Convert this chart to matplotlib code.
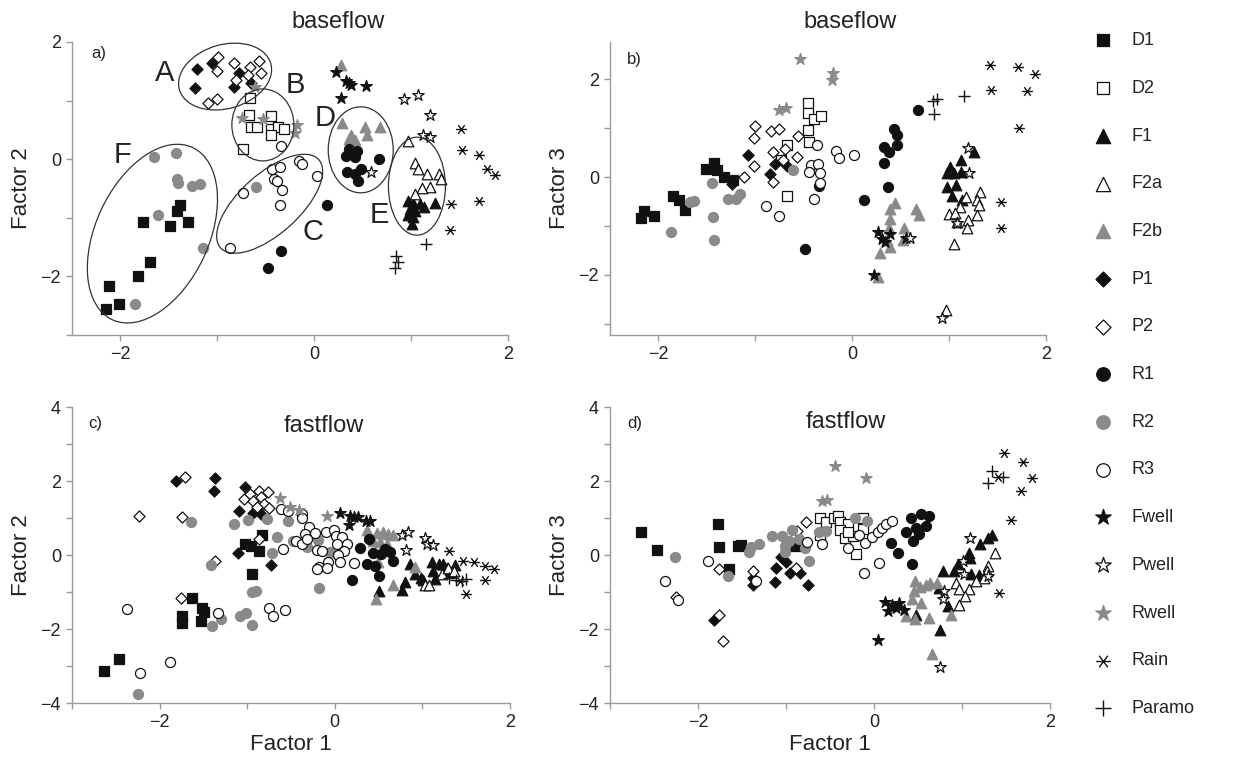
import matplotlib
matplotlib.use('Agg')
import matplotlib.pyplot as plt
from matplotlib.patches import Ellipse
from matplotlib.path import Path
from matplotlib.transforms import ScaledTranslation
from matplotlib.ticker import MultipleLocator

plt.rcParams['font.family'] = ['Liberation Sans', 'DejaVu Sans']

categories = ["D1", "D2", "F1", "F2a", "F2b", "P1", "P2", "R1", "R2", "R3",
              "Fwell", "Pwell", "Rwell", "Rain", "Paramo"]

# ---------------- panel a: baseflow, Factor 1 vs Factor 2 ----------------
base_f12 = {
    "D1": [(-1.39, -0.78), (-1.42, -0.88), (-1.77, -1.08), (-1.49, -1.14), (-1.30, -1.08),
           (-1.70, -1.75), (-1.82, -1.99), (-2.12, -2.16), (-2.02, -2.47), (-2.15, -2.56)],
    "D2": [(-0.66, 1.05), (-0.67, 0.75), (-0.65, 0.55), (-0.59, 0.55), (-0.45, 0.73),
           (-0.45, 0.51), (-0.37, 0.55), (-0.31, 0.51), (-0.45, 0.42), (-0.73, 0.17)],
    "F1": [(0.97, -0.71), (1.02, -0.74), (1.09, -0.76), (1.13, -0.82), (0.99, -0.85),
           (1.04, -0.88), (0.97, -0.96), (1.02, -0.99), (1.01, -1.10), (1.25, -0.75)],
    "F2a": [(0.97, 0.31), (1.04, -0.07), (1.07, -0.17), (1.16, -0.25), (1.29, -0.25),
            (1.31, -0.33), (1.19, -0.48), (1.11, -0.50), (1.04, -0.60)],
    "F2b": [(0.29, 0.62), (0.52, 0.55), (0.68, 0.55), (0.54, 0.42), (0.38, 0.42),
            (0.42, 0.33), (0.36, 0.35), (0.28, 1.61)],
    "P1": [(-1.21, 1.54), (-1.06, 1.64), (-1.23, 1.21), (-0.83, 1.23), (-0.78, 1.47), (-0.65, 1.30)],
    "P2": [(-0.99, 1.75), (-1.00, 1.50), (-0.83, 1.64), (-0.66, 1.58), (-0.57, 1.67),
           (-0.55, 1.47), (-0.68, 1.44), (-0.81, 1.36), (-1.10, 0.96), (-1.00, 1.03)],
    "R1": [(-0.34, -1.57), (-0.48, -1.85), (0.13, -0.79), (0.36, 0.17), (0.44, 0.14),
           (0.33, 0.06), (0.42, 0.03), (0.48, -0.17), (0.42, -0.25), (0.34, -0.21),
           (0.45, -0.37), (0.67, 0.01)],
    "R2": [(-1.65, 0.04), (-1.43, 0.10), (-1.42, -0.34), (-1.41, -0.41), (-1.26, -0.46),
           (-1.18, -0.43), (-1.61, -0.96), (-0.60, -0.47), (-1.15, -1.51), (-1.85, -2.47)],
    "R3": [(-0.34, 0.23), (-0.44, -0.16), (-0.35, -0.13), (-0.41, -0.34), (-0.38, -0.38),
           (-0.33, -0.52), (-0.35, -0.79), (-0.74, -0.58), (-0.87, -1.51), (-0.16, -0.03),
           (-0.13, -0.08), (0.03, -0.28)],
    "Fwell": [(0.22, 1.48), (0.33, 1.34), (0.38, 1.26), (0.36, 1.30), (0.53, 1.25), (0.28, 1.05)],
    "Pwell": [(0.93, 1.02), (1.07, 1.09), (1.20, 0.76), (1.12, 0.42), (1.20, 0.38), (0.59, -0.21)],
    "Rwell": [(-0.75, 0.71), (-0.53, 0.68), (-0.18, 0.59), (-0.20, 0.45), (-0.61, 1.24)],
    "Rain": [(1.52, 0.52), (1.53, 0.15), (1.70, 0.07), (1.78, -0.16), (1.87, -0.27),
             (1.41, -0.77), (1.70, -0.72), (1.40, -1.20)],
    "Paramo": [(1.15, -1.45), (0.84, -1.66), (0.86, -1.75), (0.83, -1.85)],
}

# ---------------- panel b: baseflow, Factor 1 vs Factor 3 ----------------
base_f13 = {
    "D1": [(-2.18, -0.83), (-2.15, -0.69), (-2.05, -0.80), (-1.85, -0.39), (-1.79, -0.48),
           (-1.73, -0.67), (-1.51, 0.17), (-1.43, 0.29), (-1.40, 0.14), (-1.32, -0.01), (-1.23, -0.07)],
    "D2": [(-0.46, 1.51), (-0.46, 1.31), (-0.39, 1.19), (-0.32, 1.24), (-0.46, 0.97),
           (-0.45, 0.71), (-0.67, 0.65), (-0.74, 0.34), (-0.67, -0.39)],
    "F1": [(1.26, 0.52), (1.12, 0.35), (1.01, 0.20), (0.98, 0.08), (1.05, 0.08), (1.12, 0.10),
           (0.98, -0.20), (1.07, -0.16), (1.03, -0.39), (1.13, -0.48)],
    "F2a": [(1.32, -0.31), (1.29, -0.46), (1.31, -0.58), (1.17, -0.41), (1.11, -0.61),
            (1.00, -0.75), (1.06, -0.73), (1.20, -0.87), (1.29, -0.77), (1.08, -0.92),
            (1.18, -1.05), (1.05, -1.37), (0.97, -2.72)],
    "F2b": [(0.44, -0.54), (0.39, -0.65), (0.39, -0.86), (0.38, -1.05), (0.53, -1.05),
            (0.52, -1.29), (0.36, -1.29), (0.39, -1.43), (0.29, -1.56), (0.27, -2.05),
            (0.66, -0.65), (0.69, -0.78)],
    "P1": [(-1.24, -0.15), (-1.08, 0.44), (-0.85, 0.06), (-0.80, 0.27), (-0.67, 0.22)],
    "P2": [(-1.12, -0.01), (-1.00, 1.05), (-1.01, 0.80), (-1.01, 0.22), (-0.84, 0.95),
           (-0.76, 0.99), (-0.82, 0.51), (-0.82, -0.10), (-0.69, 0.58), (-0.57, 0.41),
           (-0.56, 0.83), (-0.71, 0.35)],
    "R1": [(-0.34, -0.18), (-0.49, -1.48), (0.68, 1.38), (0.43, 0.99), (0.46, 0.85),
           (0.33, 0.61), (0.46, 0.65), (0.38, 0.51), (0.33, 0.29), (0.37, -0.20), (0.12, -0.46)],
    "R2": [(-1.45, -0.12), (-1.67, -0.51), (-1.63, -0.50), (-1.28, -0.44), (-1.20, -0.44),
           (-1.16, -0.34), (-1.44, -0.82), (-1.43, -1.28), (-1.87, -1.12), (-0.61, 0.15)],
    "R3": [(-0.36, 0.66), (-0.43, 0.25), (-0.35, 0.26), (-0.45, 0.10), (-0.33, 0.08),
           (-0.33, -0.12), (-0.39, -0.44), (-0.89, -0.59), (-0.76, -0.80), (-0.17, 0.54),
           (-0.14, 0.39), (0.02, 0.46)],
    "Fwell": [(0.27, -1.13), (0.31, -1.26), (0.34, -1.33), (0.39, -1.16), (0.55, -1.24), (0.22, -2.01)],
    "Pwell": [(1.20, 0.59), (1.21, 0.08), (0.60, -1.24), (1.08, -0.94), (0.93, -2.89)],
    "Rwell": [(-0.54, 2.42), (-0.76, 1.36), (-0.68, 1.42), (-0.20, 2.13), (-0.21, 1.99)],
    "Rain": [(1.42, 2.29), (1.71, 2.24), (1.89, 2.10), (1.43, 1.78), (1.80, 1.75),
             (1.72, 1.00), (1.54, -0.51), (1.54, -1.05)],
    "Paramo": [(0.83, 1.56), (0.88, 1.60), (0.84, 1.29), (1.15, 1.65)],
}

# ---------------- panel c: fastflow, Factor 1 vs Factor 2 ----------------
fast_f12 = {
    "D1": [(-1.63, -1.15), (-1.52, -1.42), (-1.49, -1.54), (-1.75, -1.65), (-1.75, -1.83),
           (-1.53, -1.78), (-2.46, -2.82), (-2.64, -3.14), (-0.83, 0.55), (-1.03, 0.31),
           (-0.96, 0.25), (-0.86, 0.12), (-0.94, -0.52)],
    "D2": [],
    "F1": [(0.86, -0.25), (0.92, -0.50), (0.98, -0.63), (0.80, -0.74), (0.77, -0.95),
           (0.51, -0.97), (1.11, -0.20), (1.19, -0.25), (1.24, -0.23), (1.28, -0.35),
           (1.37, -0.26), (1.32, -0.47), (1.12, -0.44), (1.14, -0.65), (1.01, -0.68)],
    "F2a": [(1.03, -0.81), (1.08, -0.81), (1.22, -0.50), (1.29, -0.34), (1.36, -0.44)],
    "F2b": [(0.37, 0.68), (0.48, 0.59), (0.55, 0.61), (0.61, 0.57), (0.67, 0.55), (0.44, 0.39),
            (0.52, 0.34), (0.60, 0.30), (0.49, -0.20), (0.67, -0.81), (0.47, -1.19), (0.91, -0.32)],
    "P1": [(-1.81, 1.99), (-1.37, 2.08), (-1.38, 1.74), (-1.03, 1.83), (-1.09, 1.20),
           (-0.93, 1.13), (-0.84, 1.11), (-1.10, 0.05), (-0.73, -0.26)],
    "P2": [(-1.71, 2.12), (-2.24, 1.06), (-1.75, 1.02), (-1.37, -0.17), (-1.76, -1.15),
           (-1.04, 1.52), (-0.97, 1.65), (-0.87, 1.72), (-0.76, 1.71), (-0.93, 1.47),
           (-0.84, 1.56), (-0.81, 1.38), (-0.75, 1.27), (-0.89, 1.31), (-0.86, 0.43)],
    "R1": [(0.29, 0.18), (0.39, 0.43), (0.44, 0.05), (0.37, -0.25), (0.46, -0.29), (0.20, -0.67),
           (0.53, 0.04), (0.63, 0.07), (0.67, -0.16), (0.51, -0.56), (0.57, 0.16)],
    "R2": [(-1.64, 0.88), (-1.15, 0.84), (-1.41, -0.26), (-1.40, -1.92), (-1.30, -1.72),
           (-1.08, -1.65), (-2.25, -3.77), (-0.99, 0.95), (-0.77, 0.97), (-0.53, 0.93),
           (-0.66, 0.48), (-0.72, 0.05), (-0.48, 0.39), (-0.32, 0.21), (-0.19, 0.40),
           (-0.06, 0.07), (-0.95, -1.01), (-0.90, -0.97), (-1.01, -1.56), (-0.94, -1.90),
           (-0.18, -0.90)],
    "R3": [(-2.37, -1.47), (-1.33, -1.57), (-1.88, -2.88), (-2.22, -3.20), (-0.61, 1.24),
           (-0.53, 1.18), (-0.38, 1.11), (-0.37, 1.00), (-0.59, 0.16), (-0.44, 0.39),
           (-0.37, 0.30), (-0.29, 0.75), (-0.34, 0.57), (-0.23, 0.59), (-0.32, 0.43),
           (-0.20, 0.14), (-0.15, 0.12), (-0.10, 0.61), (-0.01, 0.68), (0.01, 0.52),
           (0.08, 0.50), (0.02, 0.30), (0.14, 0.30), (0.10, 0.12), (0.04, 0.01),
           (0.06, -0.18), (-0.08, -0.20), (-0.18, -0.32), (-0.20, -0.38), (-0.09, -0.34),
           (0.22, -0.22), (-0.75, -1.44), (-0.71, -1.66), (-0.57, -1.48)],
    "Fwell": [(0.06, 1.14), (0.17, 1.06), (0.22, 1.02), (0.27, 1.02), (0.36, 0.93),
              (0.40, 0.91), (0.16, 0.81)],
    "Pwell": [(0.77, 0.55), (0.83, 0.61), (1.03, 0.46), (1.05, 0.30), (1.12, 0.27), (0.81, 0.13)],
    "Rwell": [(-0.62, 1.54), (-0.51, 1.31), (-0.41, 1.22), (-0.09, 1.06)],
    "Rain": [(1.30, 0.10), (1.46, -0.16), (1.59, -0.20), (1.71, -0.29), (1.82, -0.38),
             (1.72, -0.67), (1.50, -1.06), (1.43, -0.70)],
    "Paramo": [(1.30, -0.61), (1.38, -0.68), (1.45, -0.70), (1.50, -0.65)],
}

# ---------------- panel d: fastflow, Factor 1 vs Factor 3 ----------------
fast_f13 = {
    "D1": [(-2.65, 0.63), (-2.47, 0.13), (-1.77, 0.85), (-1.76, 0.22), (-1.55, 0.23),
           (-1.51, 0.26), (-1.65, -0.39), (-0.94, 0.24), (-0.84, 0.23)],
    "D2": [(-0.61, 1.01), (-0.54, 0.88), (-0.45, 1.01), (-0.41, 1.06), (-0.39, 0.88),
           (-0.30, 0.85), (-0.39, 0.68), (-0.33, 0.45), (-0.24, 0.52), (-0.13, 0.99),
           (-0.13, 0.70), (-0.21, 0.02), (-0.61, 0.55), (-0.30, 0.63)],
    "F1": [(1.34, 0.54), (1.30, 0.45), (1.20, 0.29), (1.08, 0.06), (1.09, -0.07), (0.95, -0.25),
           (0.91, -0.43), (0.78, -0.43), (1.10, -0.51), (1.19, -0.54), (0.74, -0.89),
           (0.84, -1.38), (0.75, -2.02), (0.48, -1.61)],
    "F2a": [(1.37, 0.06), (1.30, -0.30), (1.28, -0.43), (1.25, -0.62), (1.16, -0.71),
            (0.93, -0.75), (0.97, -0.93), (1.08, -0.93), (1.03, -1.11), (0.97, -1.34)],
    "F2b": [(0.47, -0.71), (0.45, -0.96), (0.43, -1.18), (0.52, -0.87), (0.59, -0.81),
            (0.64, -0.75), (0.72, -0.75), (0.36, -1.66), (0.47, -1.72), (0.63, -1.70),
            (0.53, -1.29), (0.88, -1.61), (0.66, -2.68)],
    "P1": [(-1.82, -1.76), (-1.38, -0.63), (-1.38, -0.81), (-1.06, -0.05), (-1.00, -0.18),
           (-1.11, -0.34), (-0.95, -0.48), (-0.84, -0.48), (-1.12, -0.73), (-0.75, -0.80)],
    "P2": [(-2.25, -1.14), (-1.76, -0.39), (-1.76, -1.61), (-1.72, -2.32), (-1.38, -0.43),
           (-0.77, 0.88), (-0.87, 0.65), (-0.89, -0.34)],
    "R1": [(0.42, 1.01), (0.53, 1.10), (0.63, 1.06), (0.59, 0.79), (0.48, 0.74), (0.36, 0.61),
           (0.51, 0.58), (0.44, 0.38), (0.27, 0.06), (0.43, -0.24), (0.19, 0.33)],
    "R2": [(-2.26, -0.05), (-1.66, -0.57), (-1.42, 0.09), (-1.40, 0.22), (-1.31, 0.31),
           (-1.16, 0.52), (-1.04, 0.52), (-0.93, 0.67), (-0.97, 0.38), (-1.01, 0.24),
           (-1.01, 0.09), (-0.85, 0.43), (-0.74, -0.16), (-0.78, 0.20), (-0.62, 0.61),
           (-0.54, 0.65), (-0.22, 1.01), (-0.08, 0.92)],
    "R3": [(-2.38, -0.71), (-2.23, -1.22), (-1.89, -0.16), (-1.34, -0.71), (-0.76, 0.34),
           (-0.59, 0.29), (-0.30, 0.20), (-0.17, 0.54), (-0.10, 0.33), (-0.02, 0.49),
           (0.04, 0.61), (0.09, 0.74), (0.14, 0.85), (0.20, 0.92), (0.06, -0.21), (-0.11, -0.48)],
    "Fwell": [(0.13, -1.27), (0.20, -1.36), (0.28, -1.29), (0.16, -1.52), (0.04, -2.29),
              (0.34, -1.48), (0.25, -1.43)],
    "Pwell": [(1.09, 0.47), (1.01, -0.16), (1.02, -0.52), (0.80, -0.98), (0.78, -1.20),
              (0.75, -3.03), (1.29, -0.57)],
    "Rwell": [(-0.44, 2.40), (-0.09, 2.07), (-0.59, 1.45), (-0.53, 1.49)],
    "Rain": [(1.48, 2.75), (1.69, 2.51), (1.79, 2.08), (1.67, 1.72), (1.56, 0.94),
             (1.42, -1.02), (1.41, 2.12)],
    "Paramo": [(1.34, 2.28), (1.29, 1.95), (1.47, 2.12)],
}

# cluster ellipses in panel a: label, centre (data), width/height (px), angle, label position
cluster_labels = ["A", "B", "C", "D", "E", "F"]
cluster_centres = [(-0.92, 1.41), (-0.53, 0.585), (-0.46, -0.76), (0.48, 0.16), (1.06, -0.46), (-1.67, -1.27)]
cluster_sizes = [(95, 64, 16), (62, 72, 0), (132, 60, 42), (65, 86, 0), (57, 98, 0), (190, 113, 65)]
cluster_label_pos = [(-1.54, 1.47), (-0.20, 1.27), (-0.01, -1.24), (0.11, 0.71), (0.67, -0.96), (-1.98, 0.08)]

# ---------------- styles ----------------
BLACK = '#111111'
GREY = '#8a8a8a'
asterisk = Path([(-1, 0), (1, 0), (-0.6, -0.8), (0.6, 0.8), (-0.6, 0.8), (0.6, -0.8)],
                [Path.MOVETO, Path.LINETO, Path.MOVETO, Path.LINETO, Path.MOVETO, Path.LINETO])
styles = {
    "D1": dict(marker='s', fc=BLACK, ec=BLACK, s=48),
    "D2": dict(marker='s', fc='white', ec=BLACK, s=48),
    "F1": dict(marker='^', fc=BLACK, ec=BLACK, s=58),
    "F2a": dict(marker='^', fc='white', ec=BLACK, s=58),
    "F2b": dict(marker='^', fc=GREY, ec=GREY, s=58),
    "P1": dict(marker='D', fc=BLACK, ec=BLACK, s=32),
    "P2": dict(marker='D', fc='white', ec=BLACK, s=32),
    "R1": dict(marker='o', fc=BLACK, ec=BLACK, s=52),
    "R2": dict(marker='o', fc=GREY, ec=GREY, s=52),
    "R3": dict(marker='o', fc='white', ec=BLACK, s=52),
    "Fwell": dict(marker='*', fc=BLACK, ec=BLACK, s=75),
    "Pwell": dict(marker='*', fc='white', ec=BLACK, s=75),
    "Rwell": dict(marker='*', fc=GREY, ec=GREY, s=75),
    "Rain": dict(marker=asterisk, fc=BLACK, ec=BLACK, s=60),
    "Paramo": dict(marker='+', fc=BLACK, ec=BLACK, s=65),
}

W, H = 1236, 762
fig = plt.figure(figsize=(W / 100, H / 100), dpi=100)


def box(l, t, r, b):
    return [l / W, 1 - b / H, (r - l) / W, (b - t) / H]


ax_a = fig.add_axes(box(72, 42, 508, 335))
ax_b = fig.add_axes(box(610, 42, 1046, 335))
ax_c = fig.add_axes(box(72, 407, 510, 703))
ax_d = fig.add_axes(box(610, 407, 1050, 703))

panels = [
    (ax_a, base_f12, (-2.5, 2), (-3, 2), "baseflow", (0.61, 1.068), "Factor 2", False),
    (ax_b, base_f13, (-2.5, 2), (-3.23, 2.76), "baseflow", (0.55, 1.068), "Factor 3", False),
    (ax_c, fast_f12, (-3, 2), (-4, 4), "fastflow", (0.575, 0.935), "Factor 2", True),
    (ax_d, fast_f13, (-3, 2), (-4, 4), "fastflow", (0.535, 0.948), "Factor 3", True),
]

handles = {}
for ax, data, xl, yl, title, tpos, ylab, xlab in panels:
    for cat in categories:
        pts = data[cat]
        st = styles[cat]
        xs = [p[0] for p in pts]
        ys = [p[1] for p in pts]
        if cat in ("Rain", "Paramo"):
            h = ax.scatter(xs, ys, marker=st['marker'], s=st['s'], c=BLACK, linewidths=1.0, zorder=3)
        else:
            h = ax.scatter(xs, ys, marker=st['marker'], s=st['s'], facecolors=st['fc'],
                           edgecolors=st['ec'], linewidths=0.9, zorder=3)
        handles.setdefault(cat, h)
    ax.set_xlim(*xl)
    ax.set_ylim(*yl)
    ax.xaxis.set_major_locator(MultipleLocator(2))
    ax.xaxis.set_minor_locator(MultipleLocator(1))
    ax.yaxis.set_major_locator(MultipleLocator(2))
    ax.yaxis.set_minor_locator(MultipleLocator(1))
    for sp in ('top', 'right'):
        ax.spines[sp].set_visible(False)
    for sp in ('left', 'bottom'):
        ax.spines[sp].set_color('#9a9a9a')
        ax.spines[sp].set_linewidth(1.0)
    ax.tick_params(which='both', direction='out', length=4, width=1.0, color='#9a9a9a',
                   labelsize=13, labelcolor='#222222', pad=4)
    ax.set_ylabel(ylab, fontsize=16, color='#222222', labelpad=6)
    if xlab:
        ax.set_xlabel("Factor 1", fontsize=16, color='#222222', labelpad=2)
    ax.text(tpos[0], tpos[1], title, transform=ax.transAxes, fontsize=17, color='#222222',
            ha='center', va='center')

# panel tags
ax_a.text(-2.22, 1.81, "a)", fontsize=12, color='#222222', ha='center', va='center')
ax_b.text(-2.25, 2.40, "b)", fontsize=12, color='#222222', ha='center', va='center')
ax_c.text(-2.74, 3.55, "c)", fontsize=12, color='#222222', ha='center', va='center')
ax_d.text(-2.72, 3.55, "d)", fontsize=12, color='#222222', ha='center', va='center')

# cluster ellipses and letters in panel a
for lab, (cx, cy), (w, h, ang), (lx, ly) in zip(cluster_labels, cluster_centres, cluster_sizes, cluster_label_pos):
    tr = fig.dpi_scale_trans + ScaledTranslation(cx, cy, ax_a.transData)
    e = Ellipse((0, 0), w / 100, h / 100, angle=ang, transform=tr, fill=False,
                edgecolor='#333333', linewidth=0.9, zorder=4)
    ax_a.add_patch(e)
    ax_a.text(lx, ly, lab, fontsize=21, color='#222222', ha='center', va='center', zorder=5)

# legend
fig.legend([handles[c] for c in categories], categories, loc='upper left',
           bbox_to_anchor=(1083 / W, 1 - 25 / H), frameon=False, fontsize=13,
           labelspacing=1.70, handletextpad=0.9, borderaxespad=0, handlelength=1.4,
           markerscale=1.35, scatterpoints=1, labelcolor='#222222')

fig.savefig('out.png', dpi=100)
